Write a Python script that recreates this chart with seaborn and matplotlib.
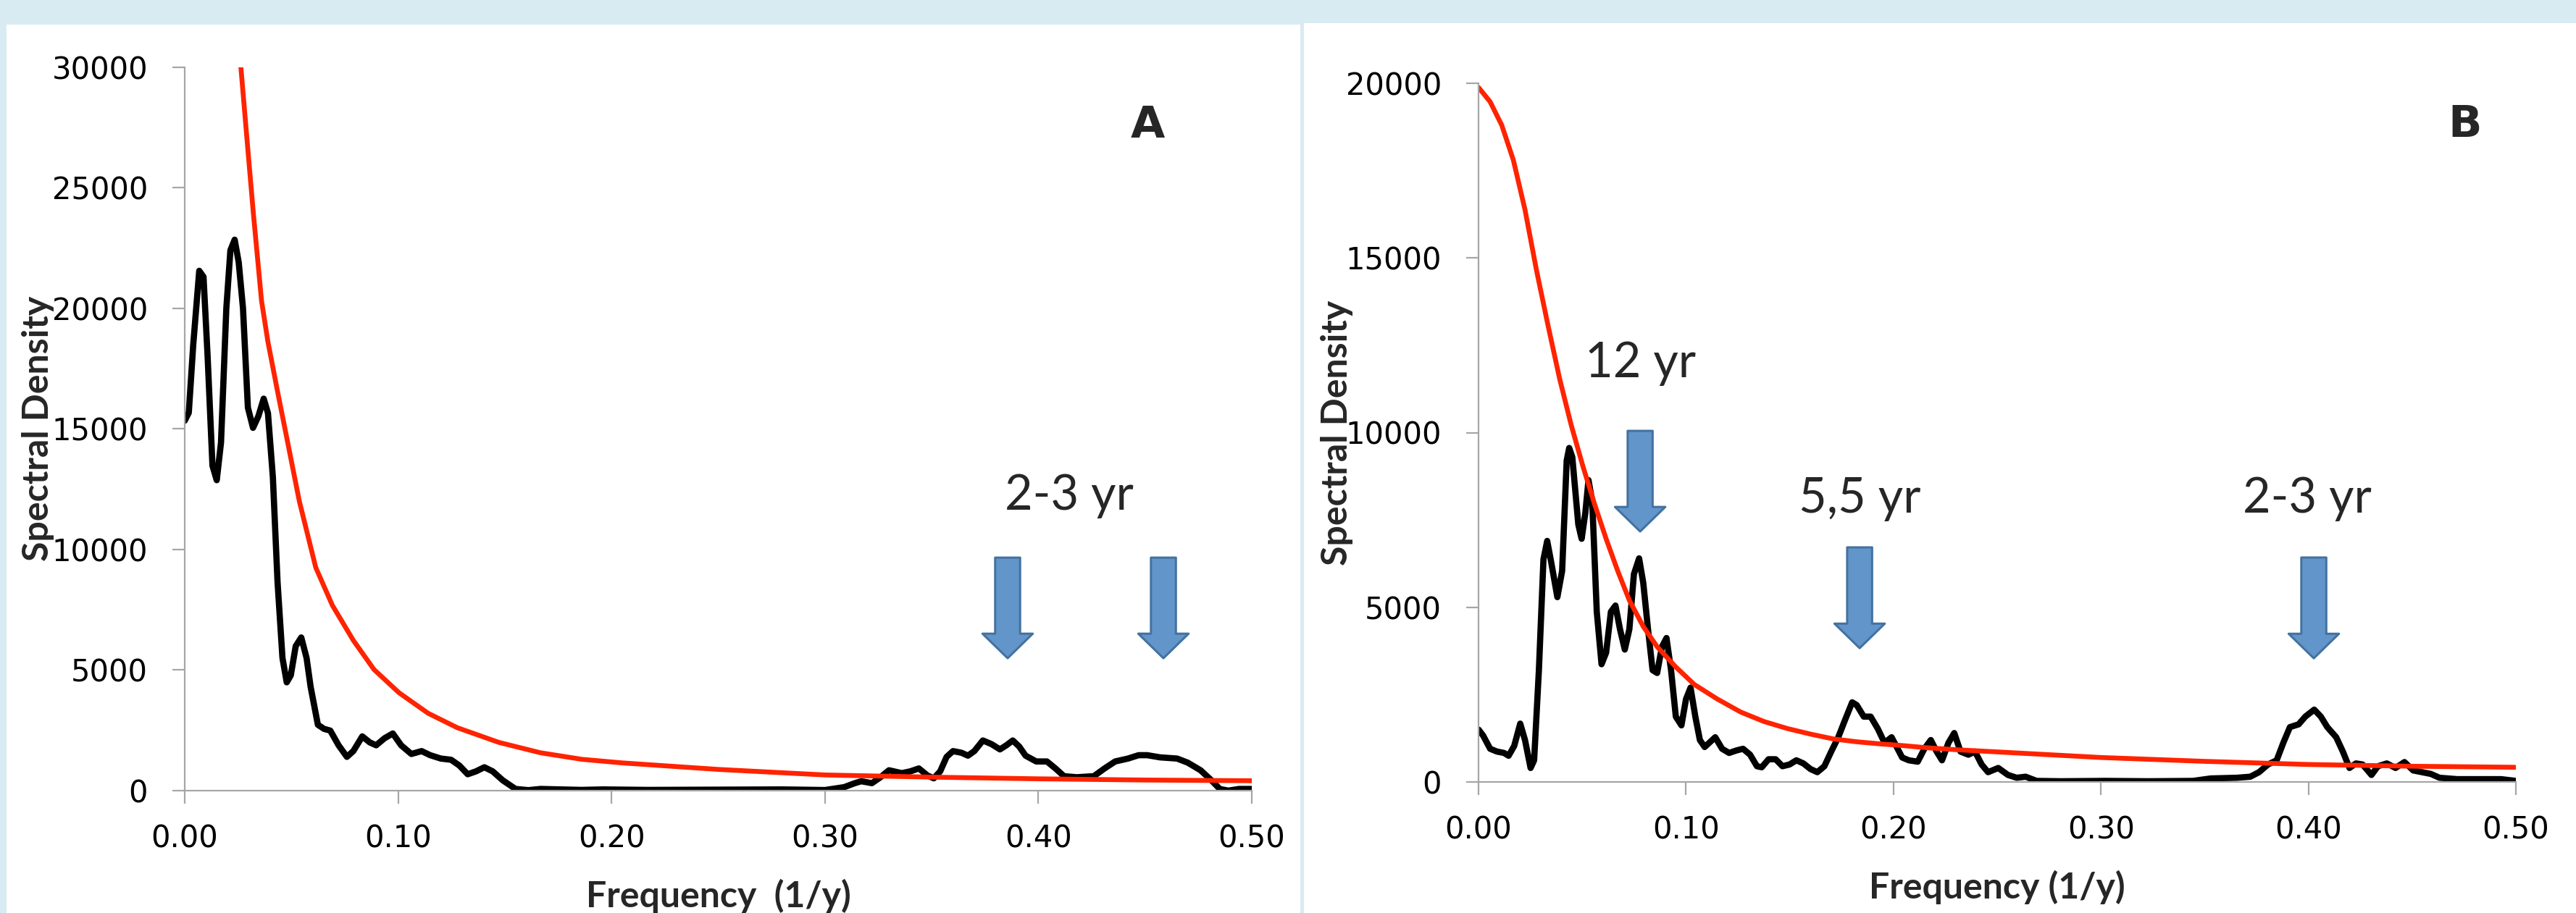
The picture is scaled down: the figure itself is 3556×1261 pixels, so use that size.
import matplotlib
matplotlib.use("Agg")
import matplotlib.pyplot as plt
from matplotlib.patches import Rectangle
import seaborn as sns

# ---- data: (frequency 1/y, spectral density) ----
black_a = [(0, 15335), (0.0019, 15665), (0.0040, 18500), (0.0068, 21550), (0.0088, 21300),
           (0.0107, 18050), (0.013, 13470), (0.015, 12870), (0.017, 14430), (0.0195, 20000),
           (0.0214, 22400), (0.0234, 22840), (0.0253, 21900), (0.0273, 20000), (0.0296, 15880),
           (0.032, 15040), (0.0345, 15520), (0.037, 16250), (0.039, 15650), (0.0413, 13000),
           (0.0435, 8640), (0.0458, 5500), (0.0478, 4490), (0.0497, 4780), (0.052, 5990),
           (0.0546, 6350), (0.0571, 5500), (0.059, 4300), (0.0624, 2730), (0.0653, 2560),
           (0.0682, 2490), (0.0721, 1880), (0.076, 1400), (0.079, 1640), (0.0832, 2250),
           (0.0867, 2000), (0.0897, 1880), (0.0936, 2170), (0.0975, 2370), (0.1014, 1880),
           (0.1062, 1520), (0.111, 1640), (0.115, 1470), (0.12, 1330), (0.1248, 1280),
           (0.1287, 1040), (0.1326, 680), (0.1365, 800), (0.1404, 970), (0.1443, 800),
           (0.149, 430), (0.155, 70), (0.161, 20), (0.1667, 70), (0.186, 30), (0.196, 50),
           (0.217, 30), (0.25, 40), (0.28, 50), (0.30, 25), (0.309, 145), (0.314, 310),
           (0.317, 390), (0.322, 310), (0.326, 555), (0.330, 845), (0.336, 725), (0.340, 800),
           (0.344, 920), (0.348, 630), (0.351, 510), (0.354, 800), (0.357, 1400), (0.360, 1640),
           (0.364, 1570), (0.367, 1450), (0.370, 1640), (0.374, 2080), (0.378, 1930),
           (0.382, 1710), (0.385, 1880), (0.388, 2080), (0.391, 1830), (0.394, 1450),
           (0.399, 1210), (0.404, 1210), (0.408, 920), (0.412, 600), (0.418, 555), (0.426, 600),
           (0.431, 920), (0.436, 1210), (0.442, 1330), (0.447, 1470), (0.451, 1470),
           (0.457, 1380), (0.465, 1330), (0.470, 1160), (0.476, 845), (0.481, 435), (0.485, 70),
           (0.489, 0), (0.494, 70), (0.50, 70)]

red_a = [(0.0263, 30000), (0.0294, 26770), (0.0322, 23890), (0.036, 20300), (0.039, 18600),
         (0.0436, 16500), (0.0481, 14500), (0.0537, 12000), (0.0614, 9250), (0.0692, 7680),
         (0.079, 6230), (0.0887, 5020), (0.1004, 4060), (0.114, 3210), (0.1277, 2610),
         (0.1472, 2000), (0.1667, 1570), (0.186, 1300), (0.205, 1150), (0.25, 880),
         (0.30, 650), (0.35, 560), (0.40, 490), (0.45, 440), (0.50, 410)]

black_b = [(0, 1500), (0.0022, 1330), (0.0056, 950), (0.0089, 870), (0.0123, 830), (0.0145, 750),
           (0.0172, 1030), (0.0201, 1670), (0.0224, 1200), (0.0251, 400), (0.0268, 620),
           (0.0291, 3200), (0.0313, 6370), (0.0331, 6900), (0.0350, 6300), (0.038, 5290),
           (0.0403, 6040), (0.0425, 9200), (0.0437, 9560), (0.0452, 9300), (0.0481, 7370),
           (0.0497, 6960), (0.0515, 7710), (0.053, 8640), (0.0548, 8040), (0.057, 4870),
           (0.0593, 3370), (0.0615, 3700), (0.0638, 4870), (0.066, 5050), (0.0682, 4370),
           (0.0705, 3790), (0.0727, 4370), (0.0749, 5950), (0.0774, 6400), (0.0794, 5700),
           (0.0817, 4370), (0.0839, 3200), (0.0861, 3120), (0.0884, 3870), (0.0906, 4120),
           (0.0928, 3200), (0.0951, 1870), (0.0978, 1620), (0.1, 2370), (0.1022, 2700),
           (0.1045, 1870), (0.1067, 1200), (0.109, 1000), (0.1112, 1120), (0.1141, 1280),
           (0.1174, 950), (0.1208, 830), (0.1242, 900), (0.1275, 950), (0.1309, 780),
           (0.1342, 450), (0.1365, 420), (0.1398, 650), (0.1432, 650), (0.1465, 450),
           (0.1499, 500), (0.1532, 620), (0.1566, 530), (0.16, 370), (0.1633, 280), (0.1667, 450),
           (0.17, 870), (0.1734, 1280), (0.1767, 1780), (0.1801, 2280), (0.1823, 2200),
           (0.1857, 1870), (0.189, 1870), (0.1924, 1530), (0.1957, 1120), (0.1991, 1280),
           (0.2042, 700), (0.2074, 620), (0.2117, 580), (0.2149, 950), (0.218, 1200),
           (0.2208, 870), (0.2234, 620), (0.2265, 1120), (0.2293, 1400), (0.2323, 870),
           (0.2361, 780), (0.2393, 870), (0.2425, 500), (0.2456, 280), (0.2505, 400),
           (0.2552, 200), (0.2594, 120), (0.2637, 150), (0.269, 30), (0.2807, 20), (0.3019, 30),
           (0.3231, 20), (0.3444, 30), (0.3529, 100), (0.3656, 120), (0.372, 150), (0.3762, 280),
           (0.3805, 500), (0.3847, 620), (0.3879, 1120), (0.3911, 1570), (0.3953, 1650),
           (0.3985, 1870), (0.4028, 2070), (0.406, 1870), (0.4091, 1570), (0.4134, 1280),
           (0.4166, 870), (0.4198, 400), (0.4229, 530), (0.4261, 500), (0.4304, 200),
           (0.4335, 450), (0.4378, 530), (0.442, 400), (0.4463, 570), (0.4505, 330),
           (0.4548, 280), (0.459, 230), (0.4632, 120), (0.4717, 80), (0.4823, 80), (0.4929, 80),
           (0.5, 30)]

red_b = [(0, 19880), (0.0056, 19470), (0.0112, 18800), (0.0168, 17800), (0.0224, 16380),
         (0.028, 14630), (0.0336, 13040), (0.0391, 11540), (0.0447, 10210), (0.0503, 9040),
         (0.0559, 7960), (0.0615, 6960), (0.0671, 6040), (0.0727, 5200), (0.0794, 4450),
         (0.0861, 3870), (0.0951, 3290), (0.104, 2790), (0.1152, 2370), (0.1264, 2000),
         (0.1376, 1730), (0.1488, 1530), (0.16, 1370), (0.1711, 1230), (0.1823, 1150),
         (0.1935, 1090), (0.2047, 1040), (0.2159, 980), (0.2311, 920), (0.25, 860),
         (0.30, 700), (0.35, 590), (0.40, 500), (0.45, 450), (0.50, 420)]

# arrows: (frequency, top of arrow, tip of arrow)
arrows_a = [(0.3856, 9660, 5490), (0.4586, 9660, 5490)]
arrows_b = [(0.0779, 10050, 7170), (0.1837, 6715, 3830), (0.4026, 6425, 3540)]

# period labels: (text, frequency, baseline value)
labels_a = [("2-3 yr", 0.4145, 11645)]
labels_b = [("12 yr", 0.078, 11585), ("5,5 yr", 0.1837, 7710), ("2-3 yr", 0.3994, 7710)]

x_ticks = [0, 0.1, 0.2, 0.3, 0.4, 0.5]
x_tick_labels = ["0.00", "0.10", "0.20", "0.30", "0.40", "0.50"]
y_ticks_a = [0, 5000, 10000, 15000, 20000, 25000, 30000]
y_ticks_b = [0, 5000, 10000, 15000, 20000]

bg_blue = "#D9EBF2"
red = "#FF2300"
arrow_fill = "#6295CA"
arrow_edge = "#4472A0"
axis_grey = "#A6A6A6"

sns.set_style("ticks")
plt.rcParams["font.family"] = ["DejaVu Sans"]

W, H = 3556, 1261
fig = plt.figure(figsize=(W / 200, H / 200), dpi=200)
fig.patch.set_facecolor(bg_blue)

# white panels on the light blue background
fig.add_artist(Rectangle((9 / W, 0), (1795 - 9) / W, (H - 34) / H, transform=fig.transFigure,
                         fc="white", ec="none", zorder=-1))
fig.add_artist(Rectangle((1800 / W, 0), (W - 1800) / W, (H - 32) / H, transform=fig.transFigure,
                         fc="white", ec="none", zorder=-1))

ax_a = fig.add_axes([255 / W, (H - 1092) / H, (1728 - 255) / W, (1092 - 92.5) / H])
ax_b = fig.add_axes([2041 / W, (H - 1080) / H, (3473 - 2041) / W, (1080 - 115) / H])


def draw_panel(ax, black, red_line, ymax, yticks, arrows, labels, letter, letter_pos,
               xlabel, xlabel_y, ylabel_x):
    ax.set_facecolor("none")
    bx, by = zip(*black)
    rx, ry = zip(*red_line)
    sns.lineplot(x=list(bx), y=list(by), ax=ax, color="black", lw=3.1, sort=False, estimator=None)
    sns.lineplot(x=list(rx), y=list(ry), ax=ax, color=red, lw=2.4, sort=False, estimator=None)

    ax.set_xlim(0, 0.5)
    ax.set_ylim(0, ymax)
    ax.set_xticks(x_ticks)
    ax.set_xticklabels(x_tick_labels)
    ax.set_yticks(yticks)
    ax.set_yticklabels([str(v) for v in yticks])

    for s in ["top", "right"]:
        ax.spines[s].set_visible(False)
    for s in ["left", "bottom"]:
        ax.spines[s].set_color(axis_grey)
        ax.spines[s].set_linewidth(0.8)
    ax.tick_params(axis="both", direction="out", length=6.3, width=0.8, color=axis_grey,
                   labelsize=15, labelcolor="black")
    ax.tick_params(axis="y", pad=12)
    ax.tick_params(axis="x", pad=10)

    for f, top, tip in arrows:
        ax.annotate("", xy=(f, tip), xytext=(f, top),
                    arrowprops=dict(arrowstyle="simple,head_length=12.2,head_width=25,tail_width=12.4",
                                    mutation_scale=1, fc=arrow_fill, ec=arrow_edge, lw=1.1,
                                    shrinkA=0, shrinkB=0))
    for txt, f, yv in labels:
        ax.text(f, yv, txt, ha="center", va="baseline", fontsize=24, family="Lato")

    ax.text(letter_pos[0], letter_pos[1], letter, ha="center", va="center",
            fontsize=22, fontweight="bold")

    ax.set_xlabel(xlabel, fontsize=18, fontweight="bold", family="Lato")
    ax.xaxis.set_label_coords(0.5, xlabel_y)
    ax.xaxis.label.set_va("baseline")
    ax.set_ylabel("Spectral Density", fontsize=18, fontweight="bold", family="Lato")
    ax.yaxis.set_label_coords(ylabel_x, 0.5)
    ax.yaxis.label.set_va("center")


draw_panel(ax_a, black_a, red_a, 30000, y_ticks_a, arrows_a, labels_a, "A", (0.4511, 27580),
           "Frequency  (1/y)", -0.161, -0.1378)
draw_panel(ax_b, black_b, red_b, 20000, y_ticks_b, arrows_b, labels_b, "B", (0.4756, 18800),
           "Frequency (1/y)", -0.1668, -0.1362)

fig.savefig("out.png", dpi=200, facecolor=fig.get_facecolor())
